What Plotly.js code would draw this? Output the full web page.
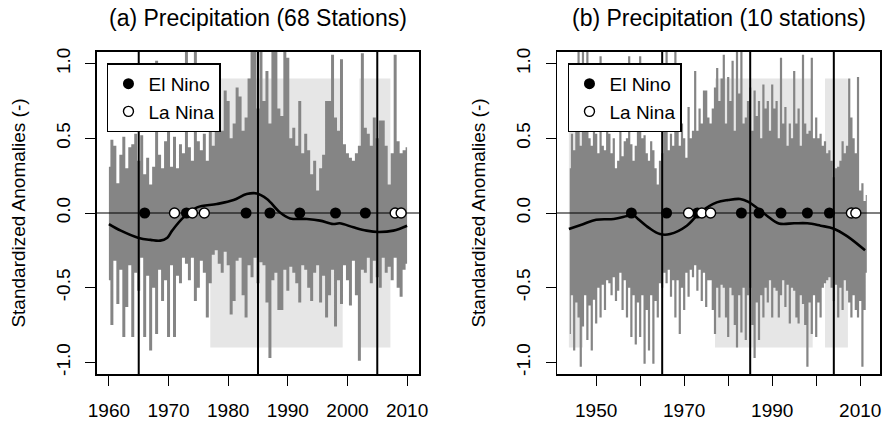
<!DOCTYPE html>
<html><head><meta charset="utf-8">
<script src="https://cdn.plot.ly/plotly-3.0.1.min.js"></script>
<style>html,body{margin:0;padding:0;background:#fff}#chart{width:884px;height:421px}</style>
</head><body><div id="chart"></div>
<script>
// ---------- Panel (a): 68 stations, half-yearly positive / negative anomalies from 1960 ----------
const startA = 1960, stepA = 0.5;
const wetA = [
0.31,0.49, 0.45,0.20, 0.39,0.51, 0.30,0.44, 0.46,0.53,
0.35,0.52, 0.26,0.37, 0.19,0.31, 1.02,0.39, 0.30,0.48,
1.00,0.31, 0.51,0.30, 0.46,0.40, 1.08,0.44, 0.35,1.08,
0.48,0.42, 0.53,0.35, 0.60,0.45, 0.70,0.89, 0.55,0.82,
0.75,0.50, 0.60,0.84, 0.78,0.55, 0.64,0.90, 1.08,1.08,
0.70,1.08, 0.75,0.95, 0.60,1.08, 1.08,0.70, 0.65,1.08,
1.04,0.50, 0.57,0.45, 0.75,0.40, 0.53,0.42, 0.26,0.35,
0.15,0.30, 0.39,0.75, 0.75,1.06, 0.64,0.55, 1.03,0.46,
0.40,0.37, 0.35,0.40, 0.45,1.07, 0.57,0.53, 0.45,0.64,
0.50,0.62, 0.62,0.45, 0.19,0.40, 1.06,0.48, 0.40,0.42,
0.44];
const dryA = [
-0.45,-0.75, -0.32,-0.61, -0.38,-0.83, -0.63,-0.35, -0.83,-0.40,
-0.52,-0.30, -0.83,-0.42, -0.92,-0.50, -0.81,-0.38, -0.59,-0.45,
-0.83,-0.35, -0.83,-0.42, -0.47,-0.30, -0.34,-0.45, -0.30,-0.59,
-0.50,-0.32, -0.40,-0.70, -0.47,-0.28, -0.25,-0.34, -0.40,-0.26,
-0.35,-0.68, -0.59,-0.32, -0.30,-0.55, -0.70,-0.35, -0.43,-0.30,
-0.47,-0.33, -0.35,-0.60, -0.97,-0.45, -0.40,-0.65, -0.65,-0.38,
-0.52,-0.36, -0.40,-0.47, -0.60,-0.35, -0.38,-0.50, -0.59,-0.40,
-0.35,-0.60, -0.42,-0.70, -0.55,-0.38, -0.76,-0.45, -0.61,-0.35,
-0.45,-0.62, -0.32,-0.55, -0.99,-0.38, -0.40,-0.30, -0.47,-0.32,
-0.43,-0.50, -0.30,-0.40, -0.36,-0.45, -0.30,-0.50, -0.56,-0.38,
-0.34];
const smoothYearsA = [1960,1962,1965,1967,1968.6,1969.8,1970.6,1972.5,1974.8,1978.1,1980.9,1983.1,1984.8,1986.5,1988.7,1990.4,1993.2,1995.4,1997.6,1998.7,2001,2003.2,2005.2,2007.7,2010];
const smoothA      = [-0.074,-0.118,-0.167,-0.18,-0.185,-0.165,-0.118,-0.029,0.038,0.06,0.087,0.127,0.131,0.094,0.004,-0.036,-0.04,-0.051,-0.074,-0.069,-0.096,-0.118,-0.127,-0.118,-0.085];
const elNinoA = [1966,1973,1983,1987,1992,1998,2003];
const laNinaA = [1971,1974,1976,2008,2009];
const breaksA = [1965,1985,2005];
const phaseStartA = [1977,2002];
const phaseEndA   = [1999.2,2007.2];

// ---------- Panel (b): 10 stations, half-yearly anomalies from 1944 ----------
const startB = 1944, stepB = 0.5;
const wetB = [
0.30,0.53, 0.42,0.60, 1.08,0.45, 1.08,0.55, 1.08,0.50, 0.45,0.62, 0.53,0.40, 1.05,0.45, 0.42,0.58, 0.53,0.40,
0.50,0.30, 0.35,0.55, 0.38,0.48, 0.50,1.05, 0.46,0.35, 0.45,0.60, 1.05,0.50, 0.52,0.40, 0.35,0.48, 0.42,0.30,
0.19,0.35, 0.40,0.62, 1.08,0.42, 0.53,0.45, 1.08,0.60, 0.45,0.60, 0.50,0.37, 0.71,0.50, 0.55,0.95, 0.55,0.70,
0.60,0.82, 0.82,0.64, 0.60,0.70, 0.84,0.97, 0.75,0.90, 1.06,0.60, 0.91,0.75, 1.02,0.55, 1.08,0.80, 1.08,0.60,
0.64,0.75, 0.84,0.55, 0.82,0.65, 0.75,0.50, 0.86,0.70, 0.75,0.55, 0.86,0.70, 0.75,0.50, 1.04,0.60, 0.71,0.45,
0.60,0.50, 0.95,0.60, 0.70,0.45, 1.06,0.60, 0.53,0.55, 1.04,0.50, 0.64,0.50, 0.53,0.45, 0.48,0.40, 0.42,0.35,
0.24,0.30, 0.31,0.35, 0.48,0.40, 0.45,0.90, 0.64,0.50, 0.40,0.91, 0.15,0.20, 0.08,0.12];
const dryB = [
-0.81,-0.55, -0.92,-0.60, -0.70,-1.03, -0.76,-0.55, -0.85,-0.62, -0.92,-0.58, -0.74,-0.50, -0.70,-0.48, -0.65,-0.45, -0.47,-0.55,
-0.43,-0.59, -0.52,-0.40, -0.65,-0.45, -0.70,-0.50, -0.83,-0.55, -0.88,-0.60, -0.83,-0.55, -1.01,-0.65, -0.92,-0.55, -1.01,-0.59,
-0.70,-0.47, -0.50,-0.40, -0.47,-0.38, -0.56,-0.45, -0.70,-0.45, -0.81,-0.50, -0.65,-0.40, -0.56,-0.38, -0.43,-0.35, -0.52,-0.38,
-0.59,-0.40, -0.63,-0.45, -0.45,-0.65, -0.81,-0.50, -0.70,-0.48, -0.50,-0.70, -0.83,-0.50, -0.55,-0.75, -0.90,-0.55, -0.80,-0.50,
-0.85,-0.55, -0.50,-0.75, -0.97,-0.60, -0.85,-0.55, -0.70,-0.50, -0.60,-0.45, -0.70,-0.50, -0.52,-0.70, -0.55,-0.45, -0.63,-0.48,
-0.74,-0.50, -0.52,-0.70, -0.74,-0.55, -0.61,-0.75, -1.03,-0.60, -0.81,-0.55, -0.83,-0.60, -0.70,-0.50, -0.47,-0.45, -0.43,-0.50,
-0.59,-0.48, -0.70,-0.50, -0.65,-0.45, -0.52,-0.60, -0.70,-0.55, -0.65,-0.70, -0.59,-1.03, -0.65,-0.40];
const smoothYearsB = [1943.8,1947,1950,1954,1957,1958.3,1959.5,1962,1964.5,1966.8,1970.6,1973.6,1977.4,1980,1982.7,1984.6,1986.5,1988.8,1991.5,1995,1998,2001,2004,2007,2011.1];
const smoothB      = [-0.107,-0.075,-0.045,-0.04,-0.02,-0.012,-0.04,-0.10,-0.141,-0.141,-0.085,0.004,0.071,0.087,0.094,0.075,0.035,-0.018,-0.07,-0.069,-0.069,-0.085,-0.105,-0.155,-0.25];
const elNinoB = [1958,1966,1973,1983,1987,1992,1998,2003];
const laNinaB = [1971,1974,1976,2008,2009];
const breaksB = [1965,1985,2004];
const phaseStartB = [1943.8,1977,2002];
const phaseEndB   = [1947,1999.2,2007.2];

// ---------- axis settings ----------
const yRange = [-1.078, 1.078];
const rangeA = [1958, 2012];
const rangeB = [1941.1, 2014.5];
const yTicks = [-1, -0.5, 0, 0.5, 1];
const yTickText = ['-1.0', '-0.5', '0.0', '0.5', '1.0'];
const xTicksA = [1960, 1970, 1980, 1990, 2000, 2010];
const xTickTextA = ['1960', '1970', '1980', '1990', '2000', '2010'];
const xTicksB = [1950, 1960, 1970, 1980, 1990, 2000, 2010];
const xTickTextB = ['1950', '', '1970', '', '1990', '', '2010'];
const rectLow = -0.9, rectHigh = 0.9;

const BAR = '#858585', SHADE = '#e6e6e6';

function panel(xs, wet, dry, sYears, sVals, nino, nina, breaks, xr, xa, ya, leg) {
  const vx = [], vy = [];
  breaks.forEach(b => { vx.push(b, b, null); vy.push(yRange[0], yRange[1], null); });
  // each half-year value is drawn as a vertical step block from zero (hvh steps, filled to zero)
  const step = (yv) => ({type: 'scatter', mode: 'lines', x: xs, y: yv, line: {shape: 'hvh', width: 0, color: BAR},
    fill: 'tozeroy', fillcolor: BAR, xaxis: xa, yaxis: ya, showlegend: false, hoverinfo: 'skip'});
  return [
    step(wet),
    step(dry),
    {type: 'scatter', mode: 'lines', x: xr, y: [0, 0], line: {color: '#000', width: 1.2}, xaxis: xa, yaxis: ya, showlegend: false, hoverinfo: 'skip'},
    {type: 'scatter', mode: 'lines', x: vx, y: vy, line: {color: '#000', width: 2}, xaxis: xa, yaxis: ya, showlegend: false, hoverinfo: 'skip'},
    {type: 'scatter', mode: 'lines', x: sYears, y: sVals, line: {color: '#000', width: 2.6, shape: 'spline', smoothing: 1}, xaxis: xa, yaxis: ya, showlegend: false, hoverinfo: 'skip'},
    {type: 'scatter', mode: 'markers', name: 'El Nino', x: nino, y: nino.map(() => 0), marker: {symbol: 'circle', size: 11, color: '#000'}, xaxis: xa, yaxis: ya, legend: leg},
    {type: 'scatter', mode: 'markers', name: 'La Nina', x: nina, y: nina.map(() => 0), marker: {symbol: 'circle', size: 10, color: '#fff', line: {color: '#000', width: 1.4}}, xaxis: xa, yaxis: ya, legend: leg}
  ];
}

const xA = wetA.map((_, i) => startA + i * stepA);
const xB = wetB.map((_, i) => startB + i * stepB);

const data = [].concat(
  panel(xA, wetA, dryA, smoothYearsA, smoothA, elNinoA, laNinaA, breaksA, rangeA, 'x', 'y', 'legend'),
  panel(xB, wetB, dryB, smoothYearsB, smoothB, elNinoB, laNinaB, breaksB, rangeB, 'x2', 'y2', 'legend2')
);

const shapes = [];
phaseStartA.forEach((s, i) => shapes.push({type: 'rect', xref: 'x', yref: 'y', x0: s, x1: phaseEndA[i], y0: rectLow, y1: rectHigh, fillcolor: SHADE, line: {width: 0}, layer: 'below'}));
phaseStartB.forEach((s, i) => shapes.push({type: 'rect', xref: 'x2', yref: 'y2', x0: s, x1: phaseEndB[i], y0: rectLow, y1: rectHigh, fillcolor: SHADE, line: {width: 0}, layer: 'below'}));

const FONT = 'Liberation Sans, Arial, Helvetica, sans-serif';
function xAxis(dom, range, tv, tt, anchor) {
  return {domain: dom, range: range, anchor: anchor, showgrid: false, zeroline: false, showline: true, mirror: true,
    linecolor: '#000', linewidth: 1.5, ticks: 'outside', ticklen: 10, tickwidth: 1, tickcolor: '#000',
    tickmode: 'array', tickvals: tv, ticktext: tt, ticklabelstandoff: 9, tickfont: {size: 19}, fixedrange: true};
}
function yAxis(anchor) {
  return {domain: [0.1116, 0.8765], range: yRange, anchor: anchor, showgrid: false, zeroline: false, showline: true, mirror: true,
    linecolor: '#000', linewidth: 1.5, ticks: 'outside', ticklen: 10, tickwidth: 1, tickcolor: '#000',
    tickmode: 'array', tickvals: yTicks, ticktext: yTickText, tickangle: -90, ticklabelstandoff: 8, tickfont: {size: 19},
    title: {text: 'Standardized Anomalies (-)', font: {size: 19}, standoff: 22}, fixedrange: true};
}

const legendBase = {bgcolor: '#fff', bordercolor: '#000', borderwidth: 1.5, font: {size: 19, family: FONT}, xanchor: 'left', yanchor: 'top', itemwidth: 30, tracegroupgap: 0};

const layout = {
  width: 884, height: 421,
  margin: {l: 0, r: 0, t: 0, b: 0},
  paper_bgcolor: '#fff', plot_bgcolor: '#fff',
  font: {family: FONT, size: 19, color: '#000'},
  xaxis: xAxis([0.1097, 0.474], rangeA, xTicksA, xTickTextA, 'y'),
  yaxis: yAxis('x'),
  xaxis2: xAxis([0.6301, 0.9955], rangeB, xTicksB, xTickTextB, 'y2'),
  yaxis2: yAxis('x2'),
  legend: Object.assign({x: 0.121, y: 0.8496}, legendBase),
  legend2: Object.assign({x: 0.6425, y: 0.8496}, legendBase),
  shapes: shapes,
  annotations: [
    {text: '(a) Precipitation (68 Stations)', xref: 'x domain', yref: 'paper', x: 0.5, y: 0.958, xanchor: 'center', yanchor: 'middle', showarrow: false, font: {size: 23}},
    {text: '(b) Precipitation (10 stations)', xref: 'x2 domain', yref: 'paper', x: 0.5, y: 0.958, xanchor: 'center', yanchor: 'middle', showarrow: false, font: {size: 23}}
  ]
};

Plotly.newPlot('chart', data, layout, {staticPlot: true, displayModeBar: false});
</script>
</body></html>
